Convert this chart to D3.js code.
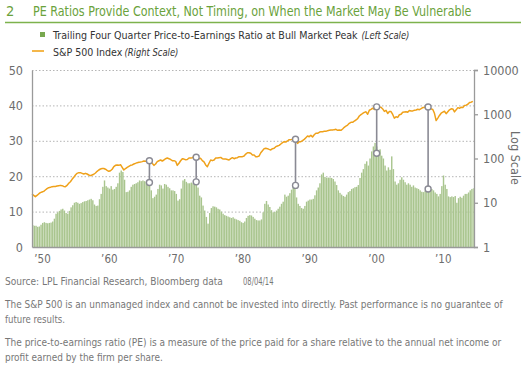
<!DOCTYPE html>
<html>
<head>
<meta charset="utf-8">
<script src="https://cdn.jsdelivr.net/npm/d3@7"></script>
<style>
  body { margin: 0; background: #fff; }
  svg text { font-family: "Liberation Sans Narrow", "DejaVu Sans Condensed", "Liberation Sans", sans-serif; }
</style>
</head>
<body>
<div id="chart"></div>
<script>
// quarterly readings, first value is Q3 1948
var startYear = 1948.5;
var endYear = 2014.67;

var peRatio = [
  6.2, 6.0,
  6.0, 5.7, 5.8, 6.3,   6.8, 7.0, 6.8, 6.7,   6.8, 6.9, 7.2, 8.0,   9.4, 9.8, 10.2, 10.6,
  10.8, 10.3, 9.6, 9.4, 10.2, 11.2, 11.8, 12.5, 12.7, 12.5, 12.2, 12.4, 12.7, 12.9, 13.0, 13.2,
  13.4, 13.6, 13.2, 12.0, 11.6, 11.7, 13.5, 15.0, 17.0, 18.8, 17.2, 16.8, 16.5, 17.2, 16.2, 16.4,
  17.0, 18.0, 21.0, 21.6, 21.2, 19.0, 15.5, 15.6, 16.0, 17.0, 17.6, 17.8, 18.0, 18.3, 18.8, 18.6,
  18.8, 18.6, 18.4, 18.2, 17.8, 16.0, 13.8, 14.2, 14.8, 16.4, 17.6, 17.4, 16.5, 17.8, 17.6, 17.0,
  16.6, 16.0, 16.0, 15.8, 15.0, 13.1, 13.5, 16.5, 18.8, 19.2, 18.4, 18.0, 18.0, 18.2, 18.0, 18.1,
  18.4, 16.8, 14.5, 14.0, 11.7, 10.3, 8.5, 6.6,  9.6, 11.0, 11.5, 11.4, 11.2, 10.8, 10.6, 10.0,
  9.4, 9.0, 8.8, 8.6,   8.4, 8.2, 8.4, 8.0,   7.8, 7.6, 7.4, 7.0,   6.8, 7.2, 8.2, 8.8,
  9.0, 8.9, 8.5, 8.0,   7.6, 7.5, 7.5, 7.8,   9.8, 12.2, 13.0, 12.0, 11.3, 10.4, 9.8, 9.9,
  10.3, 10.8, 11.4, 12.2, 12.8, 14.8, 14.2, 14.5, 15.2, 16.2, 17.2, 17.4, 14.0, 12.2, 11.6, 11.0,
  10.8, 11.6, 12.8, 13.1, 13.4, 13.4, 13.6, 14.6, 16.0, 16.8, 18.0, 20.5, 21.0, 19.8, 19.6, 19.6,
  19.6, 19.5, 19.2, 18.5, 17.5, 16.0, 15.3, 14.8, 14.4, 14.2, 14.8, 15.5, 15.8, 16.4, 16.6, 16.9,
  17.0, 17.5, 19.5, 21.0, 22.0, 23.5, 24.2, 23.0, 25.0, 27.0, 28.4, 29.4, 28.4, 26.8, 27.6, 25.8,
  25.0, 23.0, 21.6, 22.5, 21.8, 25.6, 22.0, 18.5, 17.6, 18.0, 19.0, 19.7, 19.0, 18.3, 17.6, 18.0,
  17.6, 17.0, 17.4, 16.8, 16.6, 16.4, 16.0, 15.6, 15.5, 15.9, 15.8, 16.0, 16.2, 16.4, 16.0, 15.4,
  15.0, 14.3, 15.0, 17.2, 20.2, 17.6, 16.4, 14.3, 14.1, 14.3, 14.1, 14.4, 12.5, 13.8, 14.2, 13.9,
  14.5, 15.0, 15.0, 15.4, 16.0, 16.4, 16.6
];

var spIndex = [
  15.8, 14.7,
  13.7, 14.7, 15.8, 16.9, 17.5, 18.1, 19.4, 20.8, 21.9, 22.3, 23.1, 23.4, 23.4, 23.9, 24.3, 24.7,
  24.3, 23.4, 23.1, 24.7, 27.5, 29.9, 33.8, 37.5, 42.4, 46.2, 47.9, 47.9, 46.2, 44.6, 46.2, 44.6,
  42.4, 40.9, 42.4, 44.0, 47.0, 51.3, 55.0, 57.9, 59.3, 59.3, 57.2, 54.0, 51.3, 53.0, 57.2, 65.3,
  70.1, 71.5, 70.1, 72.6, 63.1, 55.0, 59.3, 63.1, 66.5, 70.1, 71.5, 75.2, 77.8, 80.5, 82.0, 83.4,
  85.0, 87.8, 86.3, 87.8, 89.3, 85.0, 77.8, 70.0, 75.0, 85.0, 89.0, 92.5, 87.8, 92.5, 99.0, 102.6,
  99.0, 95.0, 89.3, 89.3, 86.3, 70.0, 78.0, 89.0, 99.0, 97.0, 94.0, 95.0, 102.6, 102.6, 104.5, 110,
  112, 102.6, 99.0, 101, 89.3, 83.5, 71.5, 65.3, 78.0, 92.5, 89.3, 92.5, 102.6, 102.6, 104.5, 106,
  99.0, 97.0, 97.0, 95.0, 92.5, 99.0, 104.5, 99.0, 102.6, 104.5, 110, 110, 110, 114, 126, 135,
  135, 131, 120, 120, 110, 110, 114, 135, 150, 167, 170, 167, 161, 156, 167, 170,
  185, 192, 198, 213, 228, 240, 236, 249, 267, 267, 271, 276, 271, 220, 240, 240,
  253, 271, 295, 322, 311, 333, 306, 343, 371, 371, 391, 404, 404, 411, 411, 426,
  433, 441, 441, 449, 456, 433, 441, 433, 464, 506, 542, 571, 623, 656, 656, 703,
  741, 794, 912, 977, 1040, 1102, 1134, 1000, 1229, 1286, 1373, 1283, 1469, 1499, 1455, 1436,
  1320, 1160, 1224, 1041, 1148, 1147, 990, 815, 880, 848, 975, 996, 1112, 1126, 1141, 1115,
  1212, 1181, 1191, 1229, 1248, 1295, 1270, 1336, 1418, 1421, 1503, 1527, 1468, 1323, 1280, 1050,
  720, 820, 940, 1057, 1115, 1169, 1031, 1141, 1258, 1326, 1321, 1131, 1258, 1409, 1362, 1441,
  1426, 1569, 1606, 1682, 1848, 1872, 1960
];

// bull market peaks
var peakYears = [1966.08, 1973.08, 1987.95, 2000.1, 2007.8];
var peakPE = [18.2, 18.4, 17.4, 26.5, 16.4];
var peakSP = [89, 107, 272, 1470, 1460];

var leftTicks = [0, 10, 20, 30, 40, 50];
var rightTicks = [1, 10, 100, 1000, 10000];
var decadeTicks = [1950, 1960, 1970, 1980, 1990, 2000, 2010];
var decadeLabels = ["\u201950", "\u201960", "\u201970", "\u201980", "\u201990", "\u201900", "\u201910"];

var svgWidth = 525, svgHeight = 372;
var plot = { left: 32, right: 474, top: 70, bottom: 247 };

var svg = d3.select("#chart").append("svg")
  .attr("width", svgWidth)
  .attr("height", svgHeight);

var x = d3.scaleLinear().domain([startYear, endYear]).range([plot.left, plot.right]);
var yLeft = d3.scaleLinear().domain([0, 50]).range([plot.bottom, plot.top]);
var yRight = d3.scaleLog().domain([1, 10000]).range([plot.bottom, plot.top]);

var green = "#6aa23b";
var grey = "#6d6d6d";

// squeeze a text horizontally so it spans the width seen in the reference
function fitText(x0, y0, width, str, size, fill, italic) {
  var t = svg.append("text")
    .attr("font-size", size)
    .attr("fill", fill)
    .attr("font-style", italic ? "italic" : null)
    .text(str);
  var w = t.node().getComputedTextLength();
  var k = Math.min(1, width / w);
  t.attr("transform", `translate(${x0},${y0}) scale(${k},1)`);
  return t;
}

// title
svg.append("text").attr("x", 6).attr("y", 16).attr("font-size", 14.5).attr("fill", green).text("2");
fitText(33, 16, 439, "PE Ratios Provide Context, Not Timing, on When the Market May Be Vulnerable", 14.5, green);
svg.append("line").attr("x1", 5).attr("x2", 521).attr("y1", 22.5).attr("y2", 22.5)
  .attr("stroke", "#7db24d").attr("stroke-width", 1.3);

// legend
svg.append("rect").attr("x", 40).attr("y", 32).attr("width", 5).attr("height", 5).attr("fill", "#78a84f");
fitText(53, 38.5, 305, "Trailing Four Quarter Price-to-Earnings Ratio at Bull Market Peak", 11, "#333");
fitText(361.5, 38.5, 48, "(Left Scale)", 11, "#333", true);
svg.append("line").attr("x1", 32).attr("x2", 44).attr("y1", 51).attr("y2", 51)
  .attr("stroke", "#f2a51e").attr("stroke-width", 1.6);
fitText(53, 55.5, 69.5, "S&P 500 Index", 11, "#333");
fitText(124.5, 55.5, 54, "(Right Scale)", 11, "#333", true);

// dotted grid
svg.append("g").selectAll("line")
  .data(leftTicks.filter(d => d > 0))
  .enter().append("line")
  .attr("x1", plot.left).attr("x2", plot.right)
  .attr("y1", d => yLeft(d) + 0.5).attr("y2", d => yLeft(d) + 0.5)
  .attr("stroke", "#b5b5b5").attr("stroke-dasharray", "1.5,2");

// PE bars
var quarter = 0.25;
svg.append("g").selectAll("rect")
  .data(peRatio)
  .enter().append("rect")
  .attr("x", (d, i) => x(startYear + i * quarter))
  .attr("width", (d, i) => Math.max(0, Math.min(x(startYear + (i + 1) * quarter), plot.right) - x(startYear + i * quarter) - 0.25))
  .attr("y", d => yLeft(d))
  .attr("height", d => yLeft(0) - yLeft(d))
  .attr("fill", "#a9c58e");

// S&P line
var line = d3.line()
  .x((d, i) => x(startYear + i * quarter))
  .y(d => yRight(d));
svg.append("path").datum(spIndex)
  .attr("d", line)
  .attr("fill", "none")
  .attr("stroke", "#efa11a")
  .attr("stroke-width", 1.5)
  .attr("stroke-linejoin", "round");

// axes
var leftAxis = d3.axisLeft(yLeft).tickValues(leftTicks).tickSize(0).tickPadding(9);
var gLeft = svg.append("g").attr("transform", `translate(${plot.left},0)`).call(leftAxis);
var rightAxis = d3.axisRight(yRight).tickValues(rightTicks).tickFormat(d3.format("d")).tickSize(4).tickPadding(5);
var gRight = svg.append("g").attr("transform", `translate(${plot.right},0)`).call(rightAxis);
var bottomAxis = d3.axisBottom(x).tickValues(decadeTicks).tickFormat((d, i) => decadeLabels[i]).tickSize(0).tickPadding(8);
var gBottom = svg.append("g").attr("transform", `translate(0,${plot.bottom})`).call(bottomAxis);

[gLeft, gRight, gBottom].forEach(g => {
  g.select(".domain").attr("stroke", "#9a9a9a").attr("stroke-width", 1.3);
  g.selectAll(".tick line").attr("stroke", "#9a9a9a").attr("stroke-width", 1.3);
  g.selectAll("text").attr("fill", grey).attr("font-size", 12.5)
    .style("font-family", '"Liberation Sans Narrow", "DejaVu Sans Condensed", sans-serif');
});
gBottom.selectAll("text").attr("font-size", 11.5);

svg.append("text")
  .attr("transform", "translate(511,158) rotate(90)")
  .attr("text-anchor", "middle")
  .attr("font-size", 12.5).attr("fill", grey)
  .text("Log Scale");

// peak markers
var peaks = peakYears.map((t, i) => ({ t: t, pe: peakPE[i], sp: peakSP[i] }));
var gPeaks = svg.append("g");
gPeaks.selectAll("line").data(peaks).enter().append("line")
  .attr("x1", d => x(d.t)).attr("x2", d => x(d.t))
  .attr("y1", d => yRight(d.sp)).attr("y2", d => yLeft(d.pe))
  .attr("stroke", "#8a8a94").attr("stroke-width", 1.6);
gPeaks.selectAll("circle.sp").data(peaks).enter().append("circle")
  .attr("class", "sp")
  .attr("cx", d => x(d.t)).attr("cy", d => yRight(d.sp)).attr("r", 3)
  .attr("fill", "#fff").attr("stroke", "#8a8a94").attr("stroke-width", 1.4);
gPeaks.selectAll("circle.pe").data(peaks).enter().append("circle")
  .attr("class", "pe")
  .attr("cx", d => x(d.t)).attr("cy", d => yLeft(d.pe)).attr("r", 3)
  .attr("fill", "#fff").attr("stroke", "#8a8a94").attr("stroke-width", 1.4);

// footnotes
fitText(5, 285, 218, "Source: LPL Financial Research, Bloomberg data", 11, "#777");
fitText(243, 285, 30.5, "08/04/14", 11, "#777");
fitText(5, 308, 498, "The S&P 500 is an unmanaged index and cannot be invested into directly. Past performance is no guarantee of", 11, "#777");
fitText(5, 323, 60, "future results.", 11, "#777");
fitText(5, 346, 497, "The price-to-earnings ratio (PE) is a measure of the price paid for a share relative to the annual net income or", 11, "#777");
fitText(5, 361, 158, "profit earned by the firm per share.", 11, "#777");
</script>
</body>
</html>
